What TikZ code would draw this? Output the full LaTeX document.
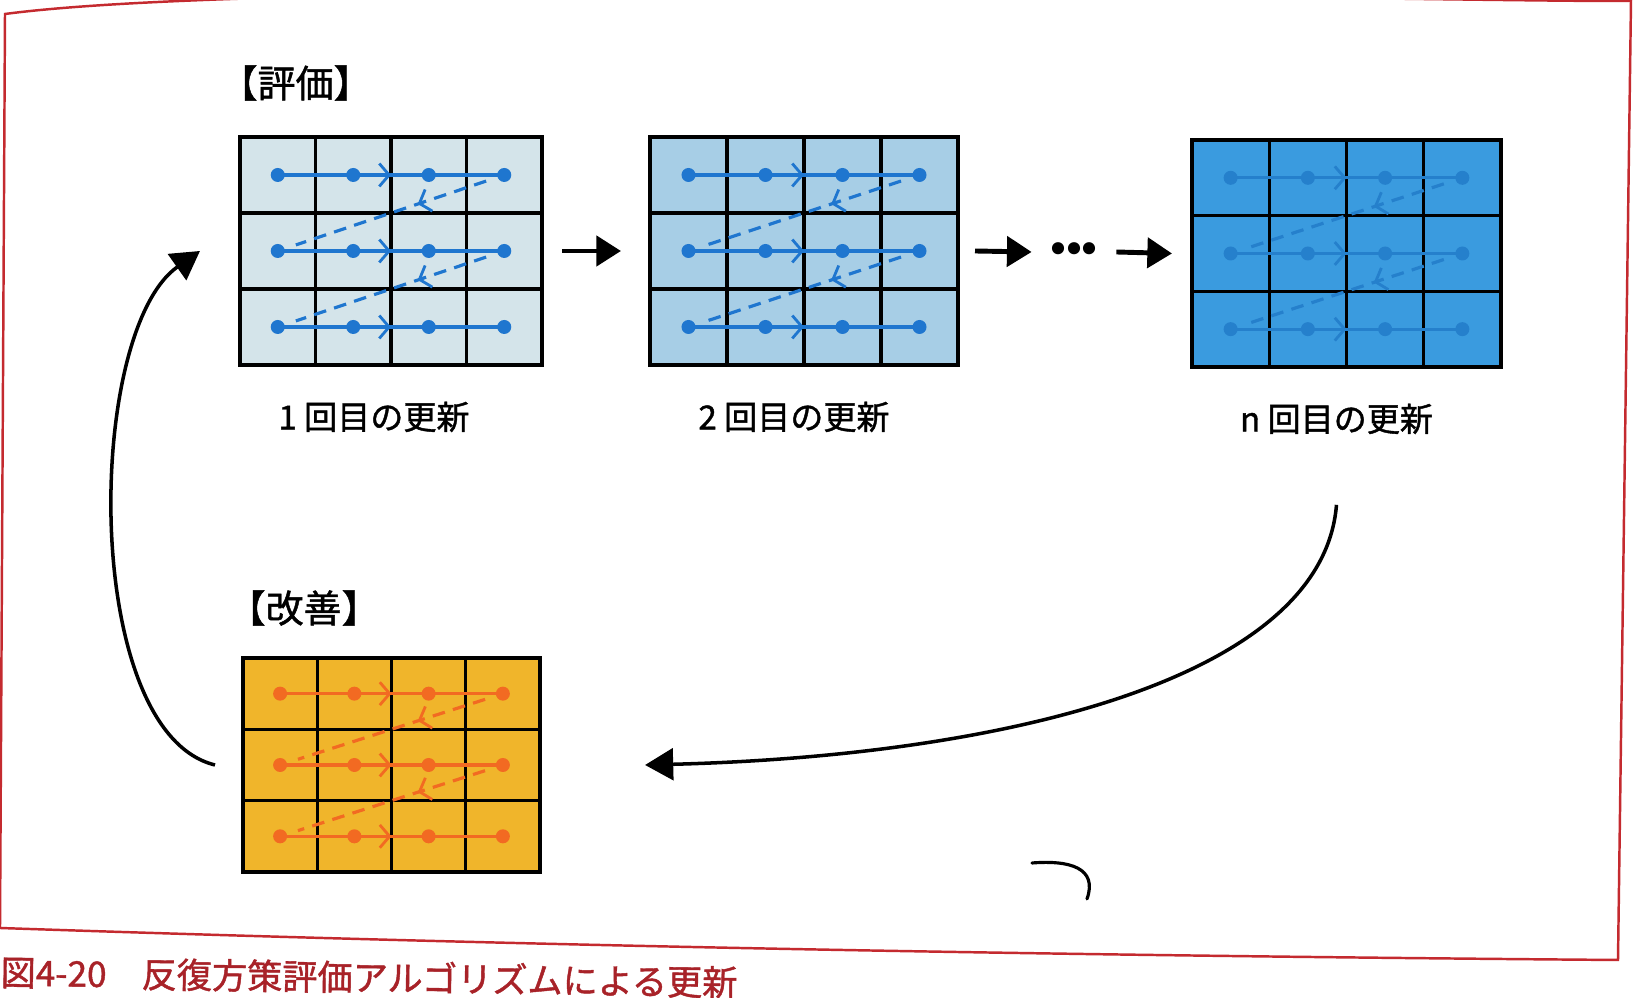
\documentclass[tikz,border=0pt]{standalone}
\usepackage{fontspec}
\newfontfamily\jp{Noto Sans CJK JP}[FakeBold=1.2]
\newfontfamily\dv{DejaVu Sans}
\usetikzlibrary{arrows.meta,calc,positioning,decorations.markings}

\definecolor{pass1}{HTML}{D4E4EA}
\definecolor{pass2}{HTML}{A7CEE6}
\definecolor{passn}{HTML}{3A9BDF}
\definecolor{improve}{HTML}{F0B52B}
\definecolor{sweepblue}{HTML}{1F76CF}
\definecolor{sweepdeep}{HTML}{2580CC}
\definecolor{sweeporange}{HTML}{F26A22}
\definecolor{framered}{HTML}{C42A2F}
\definecolor{captionred}{HTML}{A82228}

\begin{document}
\begin{tikzpicture}[x=0.01cm, y=-0.01cm,
  gridbox/.style={draw=black, line width=1.1pt, inner sep=0pt, outer sep=0pt, anchor=north west},
  cellline/.style={draw=black, line width=0.9pt},
  sweep/.style={line width=0.9pt, postaction={decorate},
    decoration={markings, mark=at position 0.5 with {\arrow{Straight Barb[length=2.8pt,width=6.5pt,line width=0.8pt]}}}},
  sweepback/.style={line width=0.9pt, dash pattern=on 3.6pt off 2.4pt, postaction={decorate},
    decoration={markings, mark=at position 0.36 with {\arrow{Straight Barb[length=2.8pt,width=6.5pt,line width=0.8pt]}}}},
  flow/.style={line width=1.4pt, -{Triangle[length=7pt,width=8.5pt]}},
  cyclearrow/.style={line width=1pt, -{Triangle[length=8pt,width=9pt]}},
  ttl/.style={font=\jp\fontsize{10.8pt}{12pt}\selectfont, inner sep=0pt, anchor=west},
  lbl/.style={font=\jp\fontsize{9.4pt}{11pt}\selectfont, inner sep=0pt},
]

  \useasboundingbox (0,0) rectangle (1641,998);
  \fill[white] (0,0) rectangle (1641,998);

  % --- page frame and caption ---
  \draw[framered, line width=0.7pt] (0,928) -- (5,14) .. controls (300,-25) and (1450,2) .. (1631,1)
    -- (1618,960) .. controls (1000,955) and (500,945) .. (0,928);
  \node[font=\jp\fontsize{10pt}{12pt}\selectfont, text=captionred, anchor=west, inner sep=0pt, rotate=-0.8]
    (caption) at (0,972) {図4-20　反復方策評価アルゴリズムによる更新};

  % --- grids: name/x/y/width/height/fill/line ---
  \foreach \n/\x/\y/\w/\h/\fc/\lc in {g1/240/137/302/228/pass1/sweepblue,
      g2/650/137/308/228/pass2/sweepblue, g3/1192/140/309/227/passn/sweepdeep,
      g4/243/658/297/214/improve/sweeporange} {
    \node[gridbox, fill=\fc, minimum width={\w*0.01cm}, minimum height={\h*0.01cm}] (\n) at (\x,\y) {};
    \foreach \i in {1,2,3}
      \draw[cellline] ($(\n.north west)!\i/4!(\n.north east)$) -- ($(\n.south west)!\i/4!(\n.south east)$);
    \foreach \j in {1,2}
      \draw[cellline] ($(\n.north west)!\j/3!(\n.south west)$) -- ($(\n.north east)!\j/3!(\n.south east)$);
    \foreach \i in {1,...,4}
      \foreach \j in {1,2,3}
        \coordinate (\n-\i-\j) at ($(\n.north west)+({(\i-0.5)*\w/4},{(\j-0.5)*\h/3})$);
    % sweep order
    \foreach \j in {1,2,3} {
      \draw[sweep, color=\lc] (\n-1-\j) -- (\n-4-\j);
      \foreach \i in {1,...,4}
        \fill[color=\lc] (\n-\i-\j) circle[radius=0.07cm];
    }
    \foreach \j/\k in {1/2,2/3}
      \draw[sweepback, color=\lc] ($(\n-4-\j)!0.08!(\n-1-\k)$) -- ($(\n-4-\j)!0.92!(\n-1-\k)$);
  }

  % --- titles and labels ---
  \node[ttl] (teval) at (219,83) {【評価】};
  \node[ttl] (timpr) at (227,608) {【改善】};
  \node[lbl, below=0.36cm of g1, xshift=-0.17cm] (lab1) {1 回目の更新};
  \node[lbl, below=0.36cm of g2, xshift=-0.1cm] (lab2) {2 回目の更新};
  \node[lbl, below=0.36cm of g3, xshift=-0.1cm] (lab3) {n 回目の更新};

  % --- updates ---
  \node[font=\dv\bfseries\fontsize{9.8pt}{11pt}\selectfont, inner sep=0pt] (dots) at (1074,252) {•\kern-1.8pt•\kern-1.8pt•};
  \draw[flow] ([xshift=0.2cm]g1.east) -- ([xshift=-0.29cm]g2.west);
  \draw[flow] ([xshift=0.17cm]g2.east) -- ([xshift=-0.15cm]dots.west);
  \draw[flow] ([xshift=0.15cm]dots.east) -- ([xshift=-0.2cm]g3.west);
  \draw[cyclearrow] ([yshift=-0.7cm]lab3.south) .. controls +(-14,175) and +(355,-9) .. ([xshift=1.05cm]g4.east);
  \draw[cyclearrow] ([xshift=-0.28cm]g4.west) .. controls +(-134,-33) and +(-115,81) .. ([xshift=-0.4cm]g1.west);

  % --- pen mark ---
  \draw[line width=0.9pt, line cap=round] (1032,863) .. controls (1070,860) and (1098,868) .. (1087,899);

\end{tikzpicture}
\end{document}
